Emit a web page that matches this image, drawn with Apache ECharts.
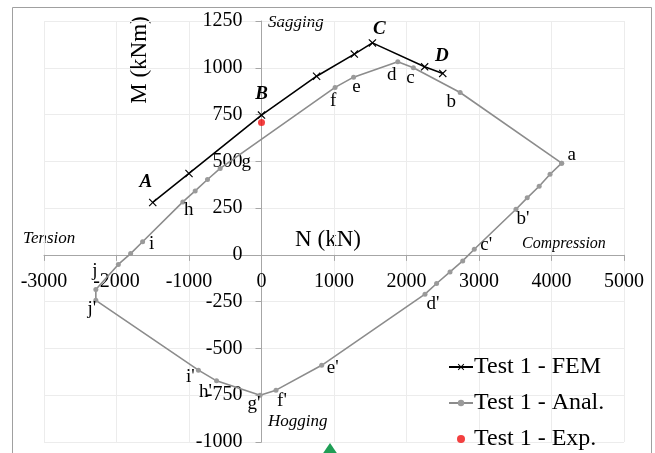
<!DOCTYPE html>
<html><head><meta charset="utf-8">
<script src="https://cdn.jsdelivr.net/npm/echarts@6/dist/echarts.min.js"></script>
<style>html,body{margin:0;padding:0;background:#fff}#c{width:655px;height:453px}</style>
</head><body><div id="c"></div>
<script>
// ---- data ----
const xTicks = [-3000, -2000, -1000, 0, 1000, 2000, 3000, 4000, 5000];
const yTicks = [-1000, -750, -500, -250, 0, 250, 500, 750, 1000, 1250];

const femN = [-1500, -1000, 0, 760, 1280, 1530, 2250, 2500];
const femM = [280, 435, 747, 955, 1073, 1133, 1005, 970];
const femTags = ['A', '', 'B', '', '', 'C', '', 'D'];

const analN = [4140, 2740, 2095, 1880, 1270, 1015, -570, -745, -915, -1085, -1640, -1805, -1975, -2285, -2285, -870, -620, -20, 200, 830, 2255, 2415, 2600, 2775, 2935, 3510, 3665, 3830, 3980, 4140];
const analM = [490, 868, 1000, 1032, 950, 895, 462, 403, 342, 283, 70, 7, -51, -185, -243, -616, -673, -750, -723, -590, -210, -153, -91, -32, 30, 244, 305, 367, 431, 490];
const analTags = ['a', 'b', 'c', 'd', 'e', 'f', 'g', '', '', 'h', 'i', '', '', 'j', "j'", "i'", "h'", "g'", "f'", "e'", "d'", '', '', '', "c'", "b'", '', '', '', ''];

const expN = [0];
const expM = [708];

const seriesNames = ['Test 1 - FEM', 'Test 1 - Anal.', 'Test 1 - Exp.'];

// ---- styling (label offsets in px) ----
const FONT = "'Liberation Serif', 'DejaVu Serif', serif";
const tagOffset = {
  a: [10, -8], b: [-9, 10], c: [-3, 10], d: [-6, 13], e: [3, 10], f: [-2, 14], g: [26, -6],
  h: [6, 8], i: [9, 2], j: [-1, -18], "j'": [-4, 9], "i'": [-8, 7], "h'": [-11, 11],
  "g'": [-6, 9], "f'": [6, 11], "e'": [11, 3], "d'": [8, 10], "c'": [12, -4], "b'": [7, 10],
  A: [-7, -20], B: [0, -21], C: [7, -14], D: [-1, -17]
};

function mkData(ns, ms, tags, bold) {
  return ns.map((n, i) => {
    const t = tags ? tags[i] : '';
    const item = { value: [n, ms[i]] };
    if (t) {
      item.label = {
        show: true, formatter: t, position: 'inside', offset: tagOffset[t],
        align: 'center', verticalAlign: 'middle',
        fontFamily: FONT, fontSize: 19, color: '#000',
        fontStyle: bold ? 'italic' : 'normal', fontWeight: bold ? 'bold' : 'normal'
      };
    }
    return item;
  });
}

const XSYM = 'path://M0,1L1,0L5,4L9,0L10,1L6,5L10,9L9,10L5,6L1,10L0,9L4,5Z';

// grid geometry
const G = { left: 44, right: 31, top: 21, bottom: 11, w: 655 - 44 - 31, h: 453 - 21 - 11 };
const xMin = xTicks[0], xMax = xTicks[xTicks.length - 1];
const yMin = yTicks[0], yMax = yTicks[yTicks.length - 1];
const yAxisOffset = -((0 - xMin) / (xMax - xMin)) * G.w;   // move y axis to N = 0
const xAxisOffset = -((0 - yMin) / (yMax - yMin)) * G.h;   // move x axis to M = 0

const chart = echarts.init(document.getElementById('c'), null, { renderer: 'canvas' });
const option = {
  animation: false,
  backgroundColor: '#fff',
  grid: { left: G.left, right: G.right, top: G.top, bottom: G.bottom, containLabel: false },
  xAxis: {
    type: 'value', min: xMin, max: xMax, interval: 1000,
    position: 'bottom', offset: xAxisOffset,
    axisLine: { onZero: false, lineStyle: { color: '#a6a6a6', width: 1 } },
    axisTick: { show: true, length: 6, lineStyle: { color: '#a6a6a6' } },
    axisLabel: { margin: 17, fontFamily: FONT, fontSize: 20, color: '#000', formatter: v => String(v) },
    splitLine: { show: true, lineStyle: { color: '#ececec', width: 1 } }
  },
  yAxis: {
    type: 'value', min: yMin, max: yMax, interval: 250,
    position: 'left', offset: yAxisOffset,
    axisLine: { onZero: false, lineStyle: { color: '#a6a6a6', width: 1 } },
    axisTick: { show: true, length: 6, lineStyle: { color: '#a6a6a6' } },
    axisLabel: { margin: 19, fontFamily: FONT, fontSize: 20, color: '#000', formatter: v => String(v) },
    splitLine: { show: true, lineStyle: { color: '#ececec', width: 1 } }
  },
  legend: {
    orient: 'vertical', left: 448, top: 355, padding: 0,
    itemWidth: 24, itemHeight: 8, itemGap: 12,
    textStyle: { fontFamily: FONT, fontSize: 24, color: '#000', lineHeight: 24, padding: [0, 0, 0, -4] },
    data: seriesNames
  },
  graphic: [
    { type: 'rect', shape: { x: 12.5, y: 7.5, width: 639, height: 470 }, style: { fill: 'none', stroke: '#a0a0a0', lineWidth: 1 }, z: -1, silent: true },
    { type: 'text', x: 140, y: 60, rotation: Math.PI / 2, style: { text: 'M (kNm)', font: "23px 'Liberation Serif', serif", fill: '#000', align: 'center', verticalAlign: 'middle' } },
    { type: 'text', x: 328, y: 240, style: { text: 'N (kN)', font: "23px 'Liberation Serif', serif", fill: '#000', align: 'center', verticalAlign: 'middle' } },
    { type: 'text', x: 268, y: 23, style: { text: 'Sagging', font: "italic 17px 'Liberation Serif', serif", fill: '#000', align: 'left', verticalAlign: 'middle' } },
    { type: 'text', x: 268, y: 422, style: { text: 'Hogging', font: "italic 17px 'Liberation Serif', serif", fill: '#000', align: 'left', verticalAlign: 'middle' } },
    { type: 'text', x: 23, y: 239, style: { text: 'Tension', font: "italic 17px 'Liberation Serif', serif", fill: '#000', align: 'left', verticalAlign: 'middle' } },
    { type: 'text', x: 522, y: 244, style: { text: 'Compression', font: "italic 16px 'Liberation Serif', serif", fill: '#000', align: 'left', verticalAlign: 'middle' } },
    { type: 'polygon', shape: { points: [[330, 443], [322.5, 454], [337.5, 454]] }, style: { fill: '#1f9e55' }, silent: true }
  ],
  series: [
    {
      name: seriesNames[1], type: 'line', data: mkData(analN, analM, analTags, false),
      symbol: 'circle', symbolSize: 5,
      lineStyle: { color: '#8c8c8c', width: 1.6 },
      itemStyle: { color: '#9a9a9a' }, z: 2
    },
    {
      name: seriesNames[0], type: 'line', data: mkData(femN, femM, femTags, true),
      symbol: XSYM, symbolSize: 8,
      lineStyle: { color: '#000', width: 1.6 },
      itemStyle: { color: '#000' }, z: 3
    },
    {
      name: seriesNames[2], type: 'scatter', data: mkData(expN, expM, null, false),
      symbol: 'circle', symbolSize: 7,
      itemStyle: { color: '#f01010' }, z: 4
    }
  ]
};
chart.setOption(option);
</script></body></html>
